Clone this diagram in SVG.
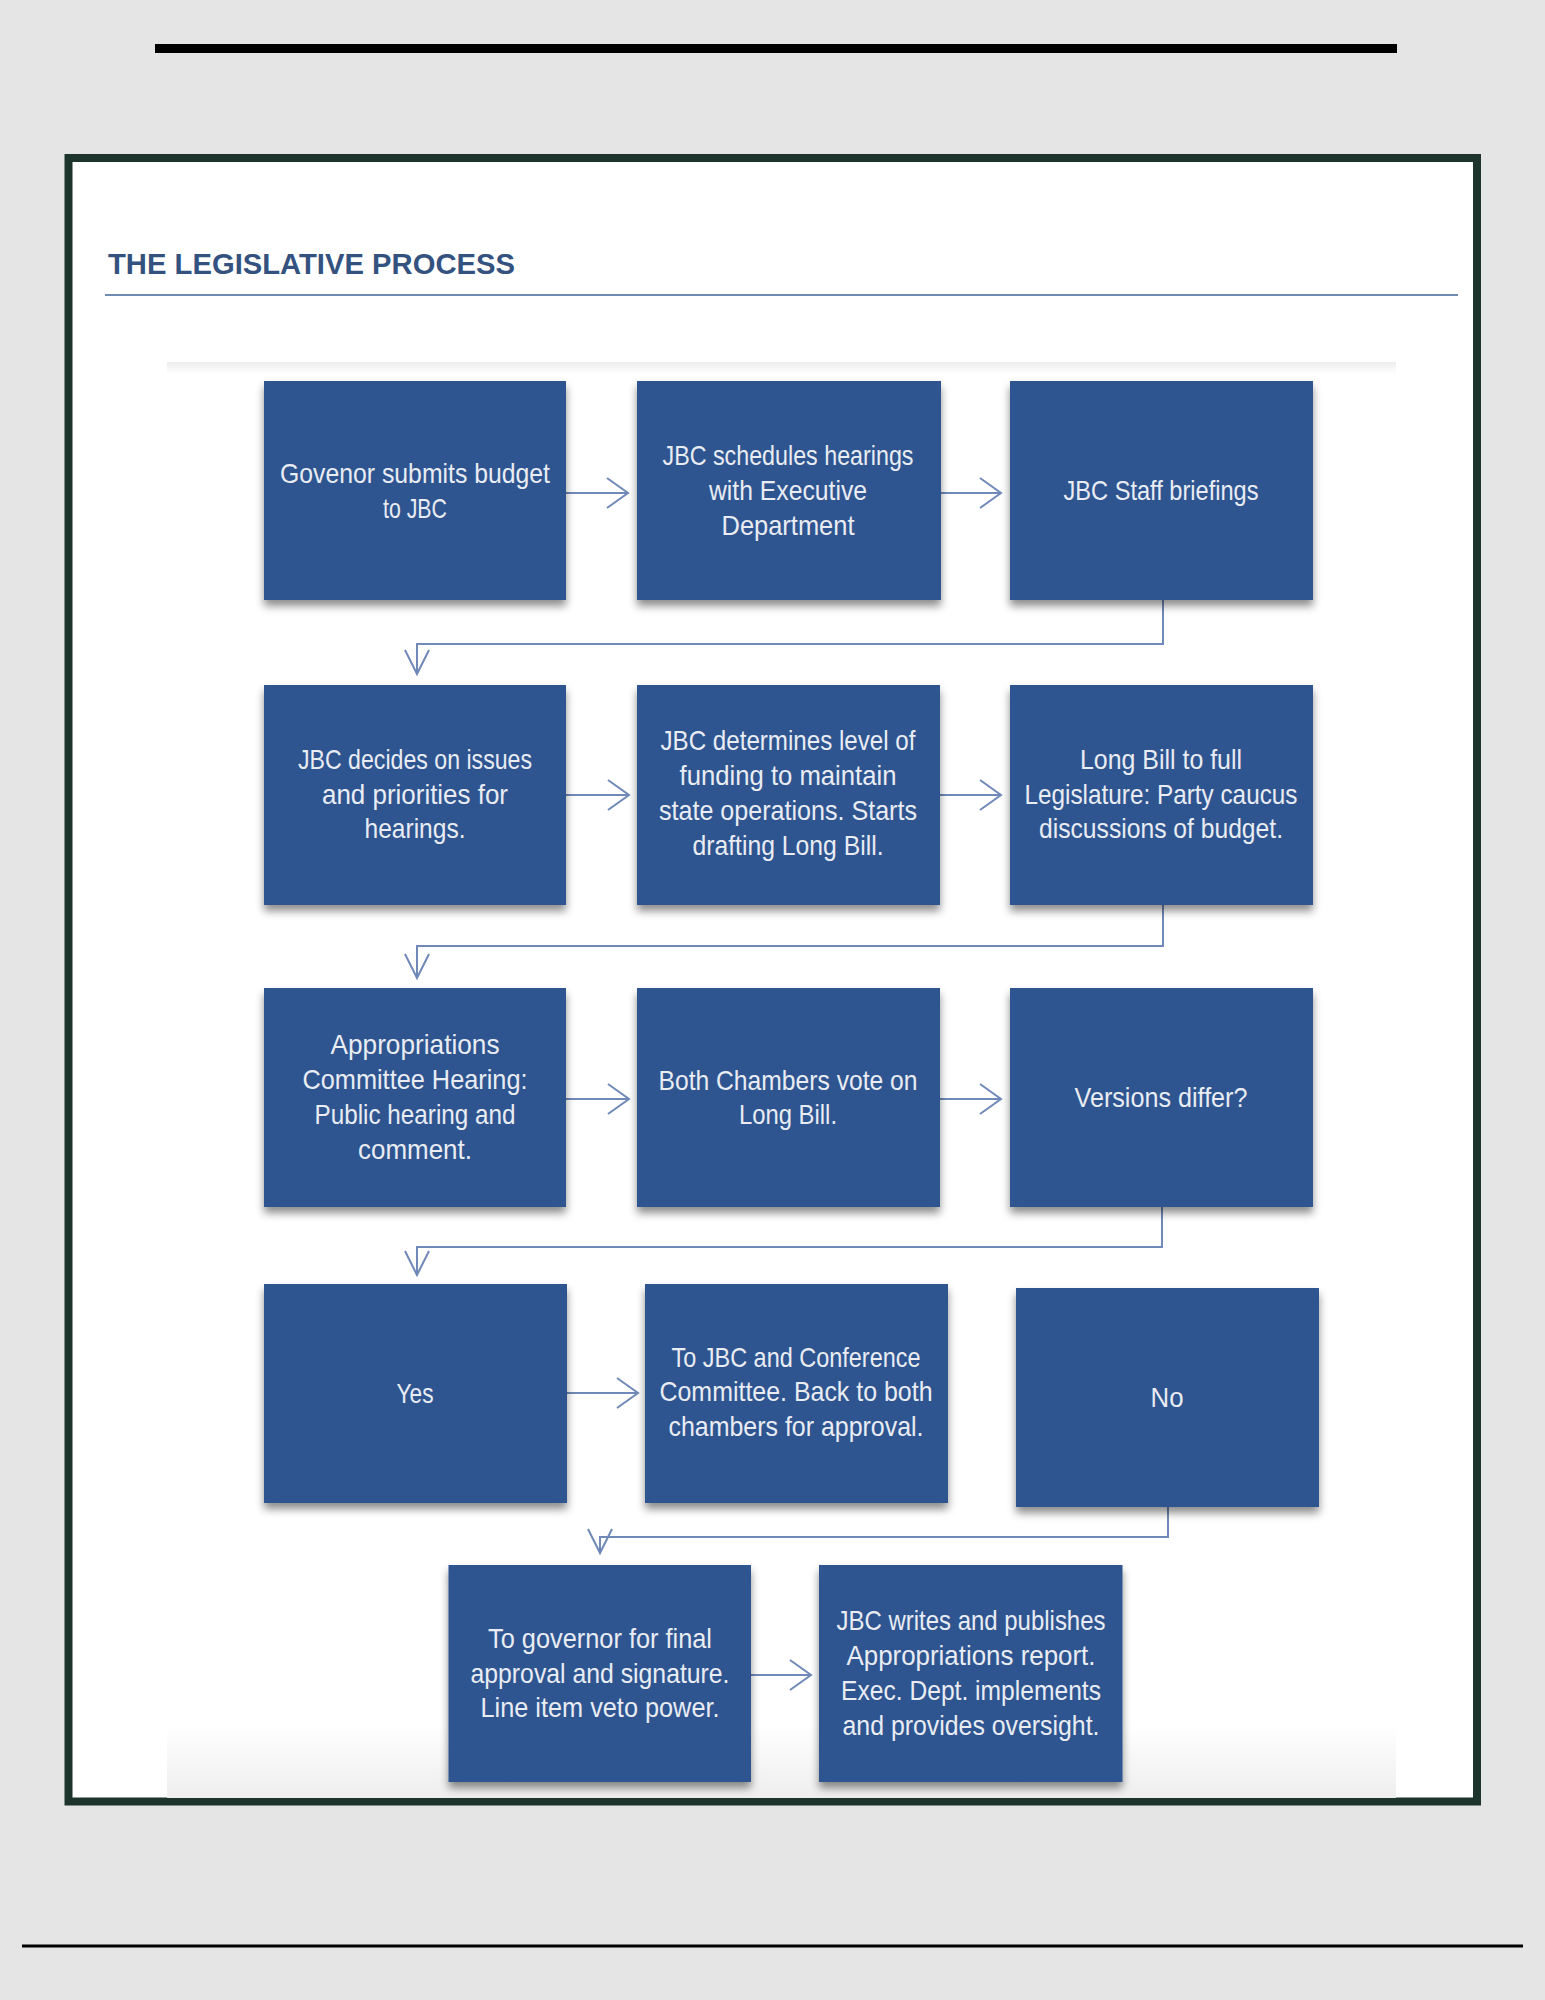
<svg xmlns="http://www.w3.org/2000/svg" width="1545" height="2000" viewBox="0 0 1545 2000">
<defs>
<style>
.box{fill:#2f5590;filter:url(#sh)}
.t{font-family:"Liberation Sans",Arial,sans-serif;font-size:28px;fill:#e9ecf3;text-anchor:middle}
.c{fill:none;stroke:#7089b8;stroke-width:2}
.title{font-family:"Liberation Sans",Arial,sans-serif;font-size:30px;font-weight:bold;fill:#34527f}
</style>
<filter id="sh" x="-10%" y="-10%" width="120%" height="125%">
<feDropShadow dx="0" dy="6" stdDeviation="4" flood-color="#000" flood-opacity="0.45"/>
</filter>
<marker id="ah" markerUnits="userSpaceOnUse" orient="auto" refX="0" refY="0" markerWidth="30" markerHeight="34" viewBox="-24 -17 28 34" overflow="visible">
<path d="M-21,-15 L0,0 L-21,15" fill="none" stroke="#7089b8" stroke-width="2"/>
</marker>
<marker id="av" markerUnits="userSpaceOnUse" orient="auto" refX="0" refY="0" markerWidth="30" markerHeight="30" viewBox="-26 -14 30 28" overflow="visible">
<path d="M-24,-12 L0,0 L-24,12" fill="none" stroke="#7089b8" stroke-width="2"/>
</marker>
<linearGradient id="gtop" x1="0" y1="0" x2="0" y2="1">
<stop offset="0" stop-color="#ededed"/>
<stop offset="1" stop-color="#ffffff"/>
</linearGradient>
<linearGradient id="gbot" x1="0" y1="0" x2="0" y2="1">
<stop offset="0" stop-color="#ffffff"/>
<stop offset="1" stop-color="#eeeeee"/>
</linearGradient>
</defs>
<rect x="0" y="0" width="1545" height="2000" fill="#e5e5e5"/>
<rect x="155" y="44" width="1242" height="9" fill="#000"/>
<rect x="68.5" y="158" width="1408.5" height="1643.5" fill="#ffffff" stroke="#1c342c" stroke-width="8"/>
<text class="title" x="108" y="274" textLength="407" lengthAdjust="spacingAndGlyphs">THE LEGISLATIVE PROCESS</text>
<line x1="105" y1="295" x2="1458" y2="295" stroke="#6f8ab3" stroke-width="2"/>
<rect x="167" y="362" width="1229" height="12" fill="url(#gtop)"/>
<rect x="167" y="1725" width="1229" height="73" fill="url(#gbot)"/>

<g id="connectors">
<line class="c" x1="566" y1="493" x2="628" y2="493" marker-end="url(#ah)"/>
<line class="c" x1="941" y1="493" x2="1001" y2="493" marker-end="url(#ah)"/>
<line class="c" x1="566" y1="795" x2="629" y2="795" marker-end="url(#ah)"/>
<line class="c" x1="940" y1="795" x2="1001" y2="795" marker-end="url(#ah)"/>
<line class="c" x1="566" y1="1099" x2="629" y2="1099" marker-end="url(#ah)"/>
<line class="c" x1="940" y1="1099" x2="1001" y2="1099" marker-end="url(#ah)"/>
<line class="c" x1="567" y1="1393" x2="638" y2="1393" marker-end="url(#ah)"/>
<line class="c" x1="751" y1="1675" x2="811" y2="1675" marker-end="url(#ah)"/>
<path class="c" d="M1163,600 V644 H417 V674" marker-end="url(#av)"/>
<path class="c" d="M1163,905 V946 H417 V978" marker-end="url(#av)"/>
<path class="c" d="M1162,1207 V1247 H417 V1275" marker-end="url(#av)"/>
<path class="c" d="M1168,1507 V1537 H600 V1553" marker-end="url(#av)"/>
</g>

<g id="n1"><rect class="box" x="264" y="381" width="302" height="219"/>
<text class="t" x="415" y="483" textLength="270" lengthAdjust="spacingAndGlyphs">Govenor submits budget</text>
<text class="t" x="415" y="518" textLength="64" lengthAdjust="spacingAndGlyphs">to JBC</text></g>
<g id="n2"><rect class="box" x="637" y="381" width="304" height="219"/>
<text class="t" x="788" y="465" textLength="251" lengthAdjust="spacingAndGlyphs">JBC schedules hearings</text>
<text class="t" x="788" y="500" textLength="158" lengthAdjust="spacingAndGlyphs">with Executive</text>
<text class="t" x="788" y="535" textLength="133" lengthAdjust="spacingAndGlyphs">Department</text></g>
<g id="n3"><rect class="box" x="1010" y="381" width="303" height="219"/>
<text class="t" x="1161" y="500" textLength="195" lengthAdjust="spacingAndGlyphs">JBC Staff briefings</text></g>

<g id="n4"><rect class="box" x="264" y="685" width="302" height="220"/>
<text class="t" x="415" y="769" textLength="234" lengthAdjust="spacingAndGlyphs">JBC decides on issues</text>
<text class="t" x="415" y="804" textLength="186" lengthAdjust="spacingAndGlyphs">and priorities for</text>
<text class="t" x="415" y="838" textLength="101" lengthAdjust="spacingAndGlyphs">hearings.</text></g>
<g id="n5"><rect class="box" x="637" y="685" width="303" height="220"/>
<text class="t" x="788" y="750" textLength="255" lengthAdjust="spacingAndGlyphs">JBC determines level of</text>
<text class="t" x="788" y="785" textLength="217" lengthAdjust="spacingAndGlyphs">funding to maintain</text>
<text class="t" x="788" y="820" textLength="258" lengthAdjust="spacingAndGlyphs">state operations. Starts</text>
<text class="t" x="788" y="855" textLength="191" lengthAdjust="spacingAndGlyphs">drafting Long Bill.</text></g>
<g id="n6"><rect class="box" x="1010" y="685" width="303" height="220"/>
<text class="t" x="1161" y="769" textLength="162" lengthAdjust="spacingAndGlyphs">Long Bill to full</text>
<text class="t" x="1161" y="804" textLength="273" lengthAdjust="spacingAndGlyphs">Legislature: Party caucus</text>
<text class="t" x="1161" y="838" textLength="244" lengthAdjust="spacingAndGlyphs">discussions of budget.</text></g>

<g id="n7"><rect class="box" x="264" y="988" width="302" height="219"/>
<text class="t" x="415" y="1054" textLength="169" lengthAdjust="spacingAndGlyphs">Appropriations</text>
<text class="t" x="415" y="1089" textLength="225" lengthAdjust="spacingAndGlyphs">Committee Hearing:</text>
<text class="t" x="415" y="1124" textLength="201" lengthAdjust="spacingAndGlyphs">Public hearing and</text>
<text class="t" x="415" y="1159" textLength="114" lengthAdjust="spacingAndGlyphs">comment.</text></g>
<g id="n8"><rect class="box" x="637" y="988" width="303" height="219"/>
<text class="t" x="788" y="1090" textLength="259" lengthAdjust="spacingAndGlyphs">Both Chambers vote on</text>
<text class="t" x="788" y="1124" textLength="98" lengthAdjust="spacingAndGlyphs">Long Bill.</text></g>
<g id="n9"><rect class="box" x="1010" y="988" width="303" height="219"/>
<text class="t" x="1161" y="1107" textLength="173" lengthAdjust="spacingAndGlyphs">Versions differ?</text></g>

<g id="n10"><rect class="box" x="264" y="1284" width="303" height="219"/>
<text class="t" x="415" y="1403" textLength="37" lengthAdjust="spacingAndGlyphs">Yes</text></g>
<g id="n11"><rect class="box" x="645" y="1284" width="303" height="219"/>
<text class="t" x="796" y="1367" textLength="249" lengthAdjust="spacingAndGlyphs">To JBC and Conference</text>
<text class="t" x="796" y="1401" textLength="273" lengthAdjust="spacingAndGlyphs">Committee. Back to both</text>
<text class="t" x="796" y="1436" textLength="255" lengthAdjust="spacingAndGlyphs">chambers for approval.</text></g>
<g id="n12"><rect class="box" x="1016" y="1288" width="303" height="219"/>
<text class="t" x="1167" y="1407" textLength="33" lengthAdjust="spacingAndGlyphs">No</text></g>

<g id="n13"><rect class="box" x="448.5" y="1565" width="302.5" height="217"/>
<text class="t" x="600" y="1648" textLength="224" lengthAdjust="spacingAndGlyphs">To governor for final</text>
<text class="t" x="600" y="1683" textLength="259" lengthAdjust="spacingAndGlyphs">approval and signature.</text>
<text class="t" x="600" y="1717" textLength="239" lengthAdjust="spacingAndGlyphs">Line item veto power.</text></g>
<g id="n14"><rect class="box" x="819" y="1565" width="303.5" height="217"/>
<text class="t" x="971" y="1630" textLength="269" lengthAdjust="spacingAndGlyphs">JBC writes and publishes</text>
<text class="t" x="971" y="1665" textLength="249" lengthAdjust="spacingAndGlyphs">Appropriations report.</text>
<text class="t" x="971" y="1700" textLength="260" lengthAdjust="spacingAndGlyphs">Exec. Dept. implements</text>
<text class="t" x="971" y="1735" textLength="257" lengthAdjust="spacingAndGlyphs">and provides oversight.</text></g>

<line x1="22" y1="1946" x2="1523" y2="1946" stroke="#000" stroke-width="3"/>
</svg>
